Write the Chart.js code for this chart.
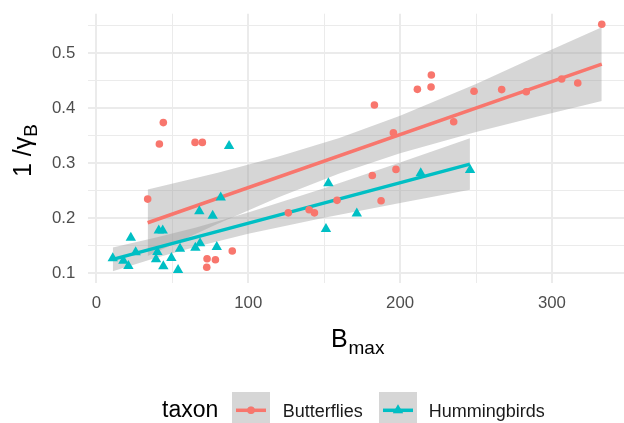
<!DOCTYPE html>
<html><head><meta charset="utf-8">
<script src="https://cdn.jsdelivr.net/npm/chart.js@4.4.1/dist/chart.umd.min.js"></script>
<style>
html,body{margin:0;padding:0;background:#fff;overflow:hidden;width:624px;height:423px}
#wrap{position:relative;width:640px;height:423px}
canvas{display:block}
</style></head><body>
<div id="wrap"><canvas id="c" width="640" height="423"></canvas></div>
<script>
// ---- data ----
const seriesNames = ['Butterflies', 'Hummingbirds'];
const legendTitle = 'taxon';

const butterflyX = [33.8, 41.5, 44.1, 65.0, 69.8, 72.7, 72.9, 78.4, 89.5, 126.4, 140.1, 143.6, 158.5, 181.7, 183.1, 187.5, 195.6, 197.3, 211.4, 220.4, 220.6, 235.3, 248.7, 266.9, 283.1, 306.4, 317.0, 332.8];
const butterflyY = [0.235, 0.335, 0.374, 0.338, 0.338, 0.111, 0.1265, 0.1247, 0.1405, 0.210, 0.2156, 0.210, 0.2327, 0.278, 0.406, 0.232, 0.3556, 0.289, 0.4345, 0.4387, 0.4605, 0.3756, 0.431, 0.434, 0.430, 0.4533, 0.446, 0.5527];

const hummingbirdX = [10.8, 17.8, 21.1, 22.7, 25.9, 39.3, 40.2, 41.1, 43.7, 44.1, 49.4, 53.8, 55.1, 65.2, 67.8, 68.3, 76.6, 79.3, 81.9, 87.4, 151.2, 152.8, 171.5, 213.6, 246.1];
const hummingbirdY = [0.1273, 0.1229, 0.1133, 0.1647, 0.1382, 0.1255, 0.139, 0.178, 0.178, 0.1127, 0.128, 0.106, 0.1447, 0.1465, 0.2127, 0.1545, 0.2047, 0.148, 0.238, 0.3315, 0.1805, 0.2636, 0.209, 0.2818, 0.288];

// fitted lines (endpoints)
const butterflyFitX = [33.8, 332.8];
const butterflyFitY = [0.192, 0.4805];
const hummingbirdFitX = [10.8, 246.0];
const hummingbirdFitY = [0.1255, 0.2986];

// confidence bands
const butterflyBandX = [33.8, 80, 120, 160, 200, 250, 290, 332.8];
const butterflyBandUpper = [0.2525, 0.283, 0.3122, 0.346, 0.3863, 0.4444, 0.4948, 0.5475];
const butterflyBandLower = [0.1315, 0.1902, 0.2382, 0.2816, 0.3185, 0.3568, 0.3848, 0.4135];
const hummingbirdBandX = [10.8, 40, 65, 100, 150, 200, 246.0];
const hummingbirdBandUpper = [0.1472, 0.1654, 0.1828, 0.2105, 0.2547, 0.3015, 0.3454];
const hummingbirdBandLower = [0.1038, 0.1286, 0.1480, 0.1719, 0.2011, 0.2279, 0.2518];

// ticks
const xMajorTicks = [0, 100, 200, 300];
const xMinorTicks = [50, 150, 250];
const yMajorTicks = [0.1, 0.2, 0.3, 0.4, 0.5];
const yMinorTicks = [0.15, 0.25, 0.35, 0.45, 0.55];
const yTickLabels = ['0.1', '0.2', '0.3', '0.4', '0.5'];
const xTickLabels = ['0', '100', '200', '300'];

// ---- styling ----
const FONT = "'Liberation Sans', Arial, Helvetica, sans-serif";
const RED = '#F8766D';
const TEAL = '#00BFC4';
const BAND = 'rgba(153,153,153,0.4)';
const GRID = '#EBEBEB';
const TARGET_AREA = {left: 88.3, top: 13.7, bottom: 282.7, right: 626.2};
let xAxisHeight = 140;
let yAxisWidth = 88.3;

const pts = (xs, ys) => xs.map((x, i) => ({x, y: ys[i]}));
const isMajor = (arr, v) => arr.some(a => Math.abs(a - v) < 1e-9);
const noPad = s => { s.paddingTop = 0; s.paddingBottom = 0; s.paddingLeft = 0; s.paddingRight = 0; };

const datasets = [
  {type: 'scatter', label: seriesNames[0], data: pts(butterflyX, butterflyY), pointStyle: 'circle', pointRadius: 3.8, backgroundColor: RED, borderWidth: 0, order: 0},
  {type: 'scatter', label: seriesNames[1], data: pts(hummingbirdX, hummingbirdY), pointStyle: 'triangle', pointRadius: 6, backgroundColor: TEAL, borderWidth: 0, order: 0},
  {type: 'line', data: pts(butterflyFitX, butterflyFitY), borderColor: RED, borderWidth: 3.5, pointRadius: 0, fill: false, order: 1},
  {type: 'line', data: pts(hummingbirdFitX, hummingbirdFitY), borderColor: TEAL, borderWidth: 3.5, pointRadius: 0, fill: false, order: 1},
  {type: 'line', data: pts(butterflyBandX, butterflyBandLower), borderWidth: 0, borderColor: 'rgba(0,0,0,0)', pointRadius: 0, fill: false, order: 2},
  {type: 'line', data: pts(butterflyBandX, butterflyBandUpper), borderWidth: 0, borderColor: 'rgba(0,0,0,0)', pointRadius: 0, fill: '-1', backgroundColor: BAND, order: 2},
  {type: 'line', data: pts(hummingbirdBandX, hummingbirdBandLower), borderWidth: 0, borderColor: 'rgba(0,0,0,0)', pointRadius: 0, fill: false, order: 2},
  {type: 'line', data: pts(hummingbirdBandX, hummingbirdBandUpper), borderWidth: 0, borderColor: 'rgba(0,0,0,0)', pointRadius: 0, fill: '-1', backgroundColor: BAND, order: 2}
];

const textPlugin = {
  id: 'texts',
  afterDraw(chart) {
    const ctx = chart.ctx;
    ctx.save();
    ctx.fillStyle = '#000';
    ctx.textAlign = 'left';
    ctx.textBaseline = 'alphabetic';
    // x axis title B_max
    ctx.font = `25px ${FONT}`;
    ctx.fillText('B', 331, 346.5);
    ctx.font = `19px ${FONT}`;
    ctx.fillText('max', 348.5, 353.5);
    // y axis title 1/γ_B
    ctx.save();
    ctx.translate(31, 177);
    ctx.rotate(-Math.PI / 2);
    ctx.font = `25px ${FONT}`;
    const main = '1 /\u03B3';
    ctx.fillText(main, 0, 0);
    const w = ctx.measureText(main).width;
    ctx.font = `19px ${FONT}`;
    ctx.fillText('B', w, 6);
    ctx.restore();

    // legend
    ctx.font = `23px ${FONT}`;
    ctx.fillStyle = '#000';
    ctx.fillText(legendTitle, 162, 416.7);
    const keys = [
      {x: 232, color: RED, style: 'circle', r: 3.8, label: seriesNames[0], tx: 282.7},
      {x: 379, color: TEAL, style: 'triangle', r: 6, label: seriesNames[1], tx: 428.7}
    ];
    keys.forEach(k => {
      ctx.fillStyle = BAND;
      ctx.fillRect(k.x, 392, 38, 37);
      ctx.strokeStyle = k.color;
      ctx.lineWidth = 3.5;
      ctx.beginPath();
      ctx.moveTo(k.x + 4, 410.3);
      ctx.lineTo(k.x + 34, 410.3);
      ctx.stroke();
      Chart.helpers.drawPoint(ctx, {pointStyle: k.style, radius: k.r, borderWidth: 0, rotation: 0}, k.x + 19, 410.3);
      ctx.fillStyle = k.color;
      ctx.fill();
      ctx.fillStyle = '#1A1A1A';
      ctx.font = `18px ${FONT}`;
      ctx.fillText(k.label, k.tx, 416.7);
    });
    ctx.restore();
  }
};

const chart = new Chart(document.getElementById('c'), {
  type: 'scatter',
  data: {datasets},
  options: {
    responsive: false,
    animation: false,
    devicePixelRatio: 1,
    layout: {padding: {left: 0, right: 14, top: 14, bottom: 0}},
    plugins: {legend: {display: false}, tooltip: {enabled: false}, title: {display: false}},
    scales: {
      x: {
        type: 'linear', min: -5.3, max: 348.9,
        afterBuildTicks: s => { s.ticks = [...xMajorTicks, ...xMinorTicks].sort((a, b) => a - b).map(v => ({value: v})); },
        afterFit: s => { s.height = xAxisHeight; noPad(s); },
        border: {display: false},
        grid: {color: GRID, drawTicks: false, lineWidth: c => (c.tick && isMajor(xMajorTicks, c.tick.value)) ? 2 : 1},
        ticks: {
          autoSkip: false, maxRotation: 0, padding: 11, color: '#4D4D4D',
          font: {family: FONT, size: 16.8},
          callback: v => { const i = xMajorTicks.findIndex(a => Math.abs(a - v) < 1e-9); return i >= 0 ? xTickLabels[i] : ''; }
        }
      },
      y: {
        type: 'linear', min: 0.083, max: 0.572,
        afterBuildTicks: s => { s.ticks = [...yMajorTicks, ...yMinorTicks].sort((a, b) => a - b).map(v => ({value: v})); },
        afterFit: s => { s.width = yAxisWidth; noPad(s); },
        border: {display: false},
        grid: {color: GRID, drawTicks: false, lineWidth: c => (c.tick && isMajor(yMajorTicks, c.tick.value)) ? 2 : 1},
        ticks: {
          autoSkip: false, padding: 13, color: '#4D4D4D',
          font: {family: FONT, size: 16.8},
          callback: v => { const i = yMajorTicks.findIndex(a => Math.abs(a - v) < 1e-9); return i >= 0 ? yTickLabels[i] : ''; }
        }
      }
    }
  },
  plugins: [textPlugin]
});

// nudge the layout so the plotting panel sits where the reference panel is
for (let k = 0; k < 4; k++) {
  const a = chart.chartArea;
  const p = chart.options.layout.padding;
  p.top += TARGET_AREA.top - a.top;
  p.right += a.right - TARGET_AREA.right;
  xAxisHeight += a.bottom - TARGET_AREA.bottom;
  yAxisWidth += TARGET_AREA.left - a.left;
  chart.update();
}
</script>
</body></html>
